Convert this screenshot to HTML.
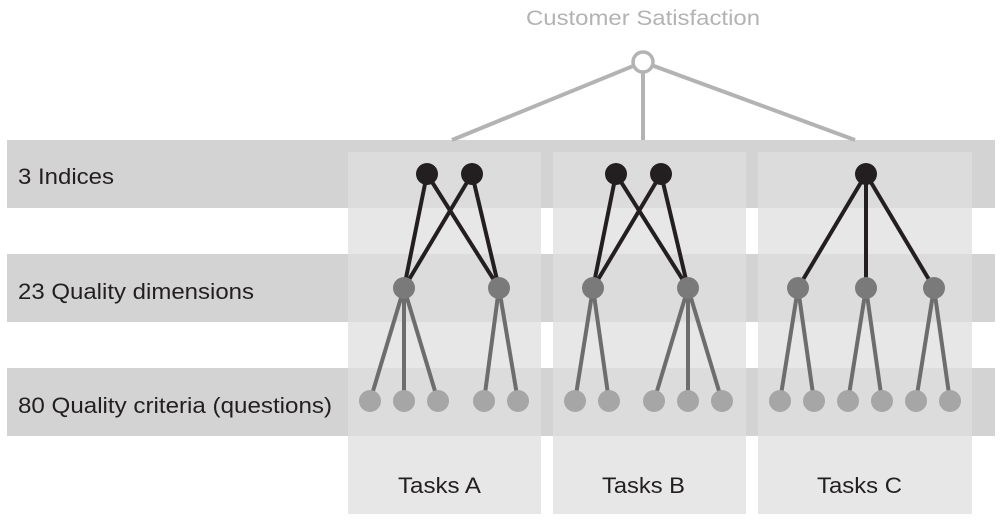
<!DOCTYPE html>
<html><head><style>body{margin:0;background:#fff}</style></head><body>
<svg width="1000" height="522" xmlns="http://www.w3.org/2000/svg" font-family="Liberation Sans, sans-serif">
<rect x="7" y="140" width="988" height="68" fill="#d3d3d3"/>
<rect x="7" y="254" width="988" height="68" fill="#d3d3d3"/>
<rect x="7" y="368" width="988" height="68" fill="#d3d3d3"/>
<g fill="#e7e7e7">
<rect x="348" y="152" width="193" height="362"/>
<rect x="553" y="152" width="193" height="362"/>
<rect x="758" y="152" width="214" height="362"/>
</g>
<g fill="#dcdcdc">
<rect x="348" y="152" width="193" height="56"/><rect x="553" y="152" width="193" height="56"/><rect x="758" y="152" width="214" height="56"/>
<rect x="348" y="254" width="193" height="68"/><rect x="553" y="254" width="193" height="68"/><rect x="758" y="254" width="214" height="68"/>
<rect x="348" y="368" width="193" height="68"/><rect x="553" y="368" width="193" height="68"/><rect x="758" y="368" width="214" height="68"/>
</g>
<g stroke="#b3b3b3" stroke-width="4">
<line x1="643" y1="62" x2="452" y2="140"/><line x1="643" y1="62" x2="643" y2="140"/><line x1="643" y1="62" x2="855" y2="140"/>
</g>
<circle cx="643" cy="62" r="10" fill="#fff" stroke="#b3b3b3" stroke-width="3.5"/>
<text x="526" y="25" font-size="21" fill="#b3b3b3" textLength="234" lengthAdjust="spacingAndGlyphs">Customer Satisfaction</text>
<g stroke="#231f20" stroke-width="4">
<line x1="427" y1="174" x2="404" y2="288"/><line x1="427" y1="174" x2="499" y2="288"/><line x1="472" y1="174" x2="404" y2="288"/><line x1="472" y1="174" x2="499" y2="288"/>
<line x1="616" y1="174" x2="593" y2="288"/><line x1="616" y1="174" x2="688" y2="288"/><line x1="661" y1="174" x2="593" y2="288"/><line x1="661" y1="174" x2="688" y2="288"/>
<line x1="866" y1="174" x2="798" y2="288"/><line x1="866" y1="174" x2="866" y2="288"/><line x1="866" y1="174" x2="934" y2="288"/>
</g>
<g stroke="#6d6d6d" stroke-width="4">
<line x1="404" y1="288" x2="370" y2="401"/><line x1="404" y1="288" x2="404" y2="401"/><line x1="404" y1="288" x2="438" y2="401"/>
<line x1="499" y1="288" x2="484" y2="401"/><line x1="499" y1="288" x2="518" y2="401"/>
<line x1="593" y1="288" x2="575" y2="401"/><line x1="593" y1="288" x2="609" y2="401"/>
<line x1="688" y1="288" x2="654" y2="401"/><line x1="688" y1="288" x2="688" y2="401"/><line x1="688" y1="288" x2="722" y2="401"/>
<line x1="798" y1="288" x2="780" y2="401"/><line x1="798" y1="288" x2="814" y2="401"/>
<line x1="866" y1="288" x2="848" y2="401"/><line x1="866" y1="288" x2="882" y2="401"/>
<line x1="934" y1="288" x2="916" y2="401"/><line x1="934" y1="288" x2="950" y2="401"/>
</g>
<g fill="#231f20">
<circle cx="427" cy="174" r="11"/><circle cx="472" cy="174" r="11"/><circle cx="616" cy="174" r="11"/><circle cx="661" cy="174" r="11"/><circle cx="866" cy="174" r="11"/>
</g>
<g fill="#7a7a7a">
<circle cx="404" cy="288" r="11"/><circle cx="499" cy="288" r="11"/><circle cx="593" cy="288" r="11"/><circle cx="688" cy="288" r="11"/><circle cx="798" cy="288" r="11"/><circle cx="866" cy="288" r="11"/><circle cx="934" cy="288" r="11"/>
</g>
<g fill="#a6a6a6">
<circle cx="370" cy="401" r="11"/><circle cx="404" cy="401" r="11"/><circle cx="438" cy="401" r="11"/><circle cx="484" cy="401" r="11"/><circle cx="518" cy="401" r="11"/>
<circle cx="575" cy="401" r="11"/><circle cx="609" cy="401" r="11"/><circle cx="654" cy="401" r="11"/><circle cx="688" cy="401" r="11"/><circle cx="722" cy="401" r="11"/>
<circle cx="780" cy="401" r="11"/><circle cx="814" cy="401" r="11"/><circle cx="848" cy="401" r="11"/><circle cx="882" cy="401" r="11"/><circle cx="916" cy="401" r="11"/><circle cx="950" cy="401" r="11"/>
</g>
<g font-size="22" fill="#231f20" lengthAdjust="spacingAndGlyphs">
<text x="18" y="184" textLength="96" lengthAdjust="spacingAndGlyphs">3 Indices</text>
<text x="18" y="299" textLength="236" lengthAdjust="spacingAndGlyphs">23 Quality dimensions</text>
<text x="18" y="413" textLength="314" lengthAdjust="spacingAndGlyphs">80 Quality criteria (questions)</text>
<text x="398" y="493" textLength="83" lengthAdjust="spacingAndGlyphs">Tasks A</text>
<text x="602" y="493" textLength="83" lengthAdjust="spacingAndGlyphs">Tasks B</text>
<text x="817" y="493" textLength="85" lengthAdjust="spacingAndGlyphs">Tasks C</text>
</g>
</svg>
</body></html>
